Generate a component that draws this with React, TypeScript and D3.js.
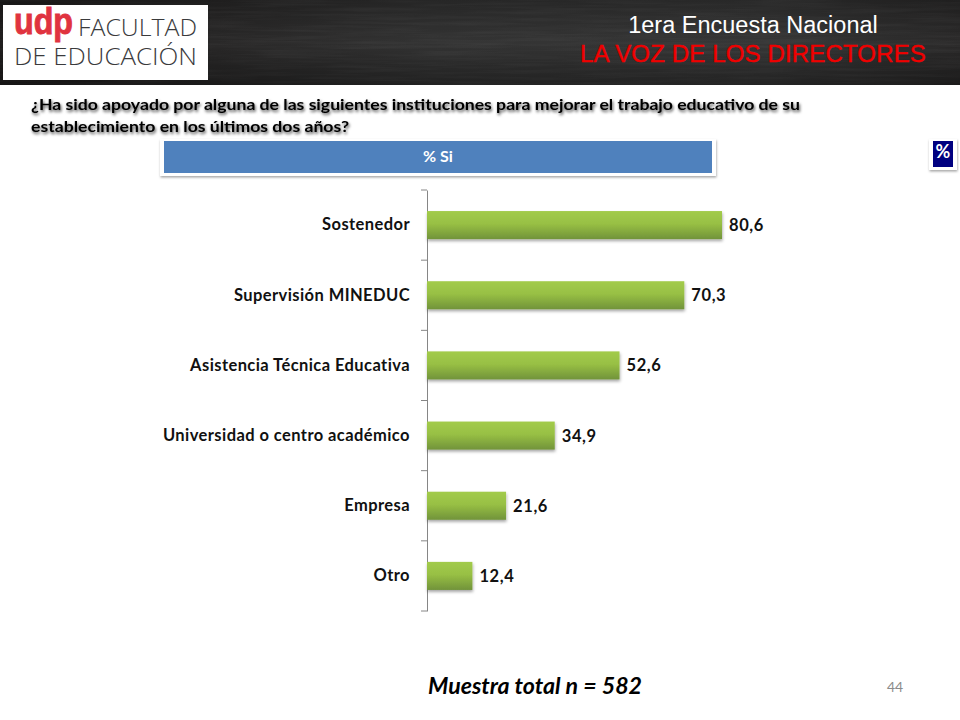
import React, { useEffect, useRef } from "react";
import * as d3 from "d3";

const categories = [
  "Sostenedor",
  "Supervisión MINEDUC",
  "Asistencia Técnica Educativa",
  "Universidad o centro académico",
  "Empresa",
  "Otro",
];
const values = [80.6, 70.3, 52.6, 34.9, 21.6, 12.4];

const question = [
  "¿Ha sido apoyado por alguna de las siguientes instituciones para mejorar el trabajo educativo de su",
  "establecimiento en los últimos dos años?",
];

const bodyFont = "Lato, 'Open Sans', sans-serif";
const arial = "'Liberation Sans', Arial, sans-serif";

const App: React.FC = () => {
  const svgRef = useRef<SVGSVGElement | null>(null);

  useEffect(() => {
    const width = 960, height = 720;
    const svg = d3.select(svgRef.current).attr("width", width).attr("height", height);
    svg.selectAll("*").remove();

    const defs = svg.append("defs");

    const boardGrad = defs.append("linearGradient").attr("id", "board");
    boardGrad.append("stop").attr("offset", "0").attr("stop-color", "#1f1d1d");
    boardGrad.append("stop").attr("offset", "0.45").attr("stop-color", "#333333");
    boardGrad.append("stop").attr("offset", "0.8").attr("stop-color", "#363636");
    boardGrad.append("stop").attr("offset", "1").attr("stop-color", "#2a2929");

    const boardShade = defs.append("linearGradient").attr("id", "boardShade").attr("x2", 0).attr("y2", 1);
    boardShade.append("stop").attr("offset", "0").attr("stop-color", "#000").attr("stop-opacity", 0.25);
    boardShade.append("stop").attr("offset", "0.5").attr("stop-color", "#000").attr("stop-opacity", 0);
    boardShade.append("stop").attr("offset", "1").attr("stop-color", "#000").attr("stop-opacity", 0.35);

    const chalk = defs.append("filter").attr("id", "chalk").attr("x", 0).attr("y", 0).attr("width", 1).attr("height", 1);
    chalk.append("feTurbulence").attr("type", "fractalNoise").attr("baseFrequency", "0.012 0.35").attr("numOctaves", 3).attr("seed", 4);
    chalk.append("feColorMatrix").attr("values", "0 0 0 0 1  0 0 0 0 1  0 0 0 0 1  0.55 0 0 0 -0.2");

    const barGrad = defs.append("linearGradient").attr("id", "barFill").attr("x2", 0).attr("y2", 1);
    barGrad.append("stop").attr("offset", "0").attr("stop-color", "#a2cb4b");
    barGrad.append("stop").attr("offset", "0.45").attr("stop-color", "#98c044");
    barGrad.append("stop").attr("offset", "1").attr("stop-color", "#71933a");

    const barShadow = defs.append("filter").attr("id", "barShadow").attr("x", "-5%").attr("y", "-20%").attr("width", "115%").attr("height", "150%");
    barShadow.append("feDropShadow").attr("dx", 0.5).attr("dy", 2).attr("stdDeviation", 1.5).attr("flood-color", "#000").attr("flood-opacity", 0.35);

    const boxShadow = defs.append("filter").attr("id", "boxShadow").attr("x", "-5%").attr("y", "-20%").attr("width", "110%").attr("height", "150%");
    boxShadow.append("feDropShadow").attr("dx", 0.5).attr("dy", 1.5).attr("stdDeviation", 1.2).attr("flood-color", "#000").attr("flood-opacity", 0.35);

    const textShadow = defs.append("filter").attr("id", "textShadow").attr("x", "-2%").attr("y", "-30%").attr("width", "104%").attr("height", "170%");
    textShadow.append("feDropShadow").attr("dx", 1).attr("dy", 2).attr("stdDeviation", 1.5).attr("flood-color", "#000").attr("flood-opacity", 0.7);

    svg.append("rect").attr("width", width).attr("height", height).attr("fill", "#fff");

    // header band
    svg.append("rect").attr("width", width).attr("height", 85).attr("fill", "url(#board)");
    svg.append("rect").attr("width", width).attr("height", 85).attr("filter", "url(#chalk)").attr("opacity", 0.16);
    svg.append("rect").attr("width", width).attr("height", 85).attr("fill", "url(#boardShade)");

    // logo
    svg.append("rect").attr("x", 3).attr("y", 5).attr("width", 205).attr("height", 75).attr("fill", "#fff");
    svg.append("text").attr("x", 14).attr("y", 34).attr("font-family", arial).attr("font-weight", 700)
      .attr("font-size", 36).attr("textLength", 59).attr("lengthAdjust", "spacingAndGlyphs")
      .attr("stroke", "#e0333f").attr("stroke-width", 0.9).attr("fill", "#e0333f").text("udp");
    svg.append("text").attr("x", 78).attr("y", 36).attr("font-family", "'Open Sans', sans-serif").attr("font-weight", 300)
      .attr("font-size", 24).attr("textLength", 119).attr("lengthAdjust", "spacingAndGlyphs").attr("fill", "#3a3a3c").text("FACULTAD");
    svg.append("text").attr("x", 14).attr("y", 65).attr("font-family", "'Open Sans', sans-serif").attr("font-weight", 300)
      .attr("font-size", 24).attr("textLength", 183).attr("lengthAdjust", "spacingAndGlyphs").attr("fill", "#3a3a3c").text("DE EDUCACIÓN");

    // header titles
    svg.append("text").attr("x", 753).attr("y", 33).attr("text-anchor", "middle").attr("font-family", arial)
      .attr("font-size", 23.5).attr("fill", "#fff").text("1era Encuesta Nacional");
    svg.append("text").attr("x", 753).attr("y", 62).attr("text-anchor", "middle").attr("font-family", arial)
      .attr("font-size", 24).attr("letter-spacing", 0.15).attr("stroke", "#f00000").attr("stroke-width", 0.4)
      .attr("fill", "#f00000").text("LA VOZ DE LOS DIRECTORES");

    // question
    svg.append("g").attr("filter", "url(#textShadow)")
      .selectAll("text").data(question).join("text")
      .attr("x", 31).attr("y", (_, i) => 110 + i * 22)
      .attr("font-family", bodyFont).attr("font-weight", 700).attr("font-size", 16)
      .attr("textLength", (_, i) => (i === 0 ? 769 : 318)).attr("lengthAdjust", "spacingAndGlyphs")
      .attr("fill", "#000").text(d => d);

    // % Si banner
    svg.append("rect").attr("x", 160).attr("y", 139).attr("width", 556).attr("height", 37).attr("fill", "#fff").attr("filter", "url(#boxShadow)");
    svg.append("rect").attr("x", 164).attr("y", 141).attr("width", 548).attr("height", 32).attr("fill", "#4f81bd");
    svg.append("text").attr("x", 438).attr("y", 162).attr("text-anchor", "middle").attr("font-family", bodyFont)
      .attr("font-weight", 700).attr("font-size", 16).attr("fill", "#fff").text("% Si");

    // % badge
    svg.append("rect").attr("x", 929).attr("y", 139).attr("width", 28).attr("height", 31).attr("fill", "#fff").attr("filter", "url(#boxShadow)");
    svg.append("rect").attr("x", 933).attr("y", 141).attr("width", 20).attr("height", 26).attr("fill", "#000080");
    svg.append("text").attr("x", 943).attr("y", 158).attr("text-anchor", "middle").attr("font-family", bodyFont)
      .attr("font-weight", 700).attr("font-size", 18).attr("fill", "#fff").text("%");

    // chart
    const xScale = d3.scaleLinear().domain([0, 100]).range([427, 793]);
    const yScale = d3.scaleBand().domain(categories).range([190, 611]).paddingInner(0.6).paddingOuter(0.3);

    const axis = svg.append("g").attr("transform", "translate(427,0)")
      .call(d3.axisLeft(yScale).tickSize(0).tickPadding(17));
    axis.select(".domain").attr("stroke", "#868686").attr("stroke-width", 1);
    axis.selectAll(".tick text")
      .attr("font-family", bodyFont).attr("font-weight", 700).attr("font-size", 16.5).attr("letter-spacing", 0.42).attr("fill", "#111");

    // tick marks sit between the categories
    const step = yScale.step();
    const tickYs = categories.map((_, i) => yScale.range()[0] + i * step).concat(yScale.range()[1]);
    axis.selectAll(".sep").data(tickYs).join("line").attr("class", "sep")
      .attr("x1", -6).attr("x2", 0).attr("y1", d => d).attr("y2", d => d)
      .attr("stroke", "#868686").attr("stroke-width", 1);

    svg.append("g").selectAll("rect").data(values).join("rect")
      .attr("x", xScale(0)).attr("y", (_, i) => yScale(categories[i])!)
      .attr("width", d => xScale(d) - xScale(0)).attr("height", yScale.bandwidth())
      .attr("fill", "url(#barFill)").attr("filter", "url(#barShadow)");

    svg.append("g").selectAll("text").data(values).join("text")
      .attr("x", d => xScale(d) + 7).attr("y", (_, i) => yScale(categories[i])! + yScale.bandwidth() / 2 + 6)
      .attr("font-family", bodyFont).attr("font-weight", 700).attr("font-size", 16.5).attr("letter-spacing", 0.6)
      .attr("fill", "#111").text(d => d.toFixed(1).replace(".", ","));

    // footer
    svg.append("text").attr("x", 428).attr("y", 694).attr("font-family", bodyFont).attr("font-weight", 700)
      .attr("font-style", "italic").attr("font-size", 22).attr("textLength", 214).attr("lengthAdjust", "spacingAndGlyphs")
      .attr("fill", "#000").text("Muestra total n = 582");
    svg.append("text").attr("x", 887).attr("y", 692).attr("font-family", bodyFont).attr("font-size", 14)
      .attr("fill", "#8b8b8b").text("44");
  }, []);

  return <svg ref={svgRef} style={{ position: "absolute", left: 0, top: 0 }}></svg>;
};

export default App;
